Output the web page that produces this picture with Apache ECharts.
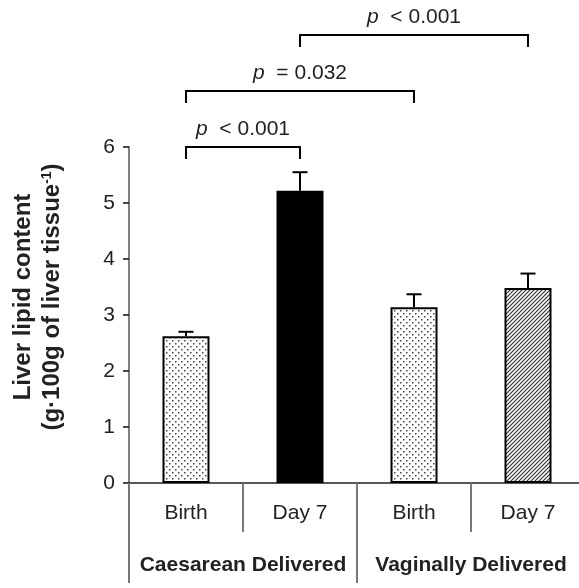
<!DOCTYPE html>
<html>
<head>
<meta charset="utf-8">
<script src="https://cdn.jsdelivr.net/npm/echarts@6/dist/echarts.min.js"></script>
<style>
  html, body { margin: 0; padding: 0; background: #fff; }
  #chart { width: 579px; height: 588px; }
</style>
</head>
<body>
<div id="chart"></div>
<script>
const groups = ['Caesarean Delivered', 'Vaginally Delivered']
const categories = ['Birth', 'Day 7', 'Birth', 'Day 7']
const values = [2.62, 5.22, 3.14, 3.48]
const errors = [0.08, 0.33, 0.23, 0.26]
const yTicks = [0, 1, 2, 3, 4, 5, 6]
// [from bar, to bar, bracket level, label]
const brackets = [
  [0, 1, 6, '< 0.001'],
  [0, 2, 7, '= 0.032'],
  [1, 3, 8, '< 0.001'],
]

function dotPattern() {
  const c = document.createElement('canvas')
  c.width = 6
  c.height = 6
  const ctx = c.getContext('2d')
  ctx.fillStyle = '#fff'
  ctx.fillRect(0, 0, 6, 6)
  ctx.fillStyle = '#444'
  ctx.fillRect(1, 1, 1.5, 1.5)
  ctx.fillRect(4, 4, 1.5, 1.5)
  return c
}

function hatchPattern() {
  const c = document.createElement('canvas')
  c.width = 4
  c.height = 4
  const ctx = c.getContext('2d')
  ctx.fillStyle = '#fff'
  ctx.fillRect(0, 0, 4, 4)
  ctx.strokeStyle = '#333'
  ctx.lineWidth = 1.2
  ctx.beginPath()
  ctx.moveTo(-1, 5); ctx.lineTo(5, -1)
  ctx.moveTo(-1, 1); ctx.lineTo(1, -1)
  ctx.moveTo(3, 5); ctx.lineTo(5, 3)
  ctx.stroke()
  return c
}

const fills = [
  { image: dotPattern(), repeat: 'repeat' },
  '#000',
  { image: dotPattern(), repeat: 'repeat' },
  { image: hatchPattern(), repeat: 'repeat' },
]

const font = 'Liberation Sans, Arial, sans-serif'
const chart = echarts.init(document.getElementById('chart'))

const option = {
  animation: false,
  backgroundColor: '#fff',
  textStyle: { fontFamily: font },
  grid: { left: 129, top: 147, width: 456, height: 336, outerBoundsMode: 'none', containLabel: false },
  xAxis: [
    {
      type: 'category',
      data: categories,
      position: 'bottom',
      axisLine: { lineStyle: { color: '#222', width: 1.5 } },
      axisTick: { show: true, interval: 0, length: 49, lineStyle: { color: '#777', width: 2 } },
      axisLabel: { interval: 0, margin: 20, fontSize: 21, color: '#222' },
    },
    {
      type: 'category',
      data: groups,
      position: 'bottom',
      axisLine: { show: false },
      axisTick: { show: true, interval: 0, length: 100, lineStyle: { color: '#777', width: 2 } },
      axisLabel: { interval: 0, margin: 72, fontSize: 21, fontWeight: 'bold', color: '#222' },
    },
  ],
  yAxis: {
    type: 'value',
    min: yTicks[0],
    max: yTicks[yTicks.length - 1],
    interval: 1,
    splitLine: { show: false },
    axisLine: { show: true, lineStyle: { color: '#808080', width: 2 } },
    axisTick: { show: true, length: 6, lineStyle: { color: '#111', width: 1.5 } },
    axisLabel: { margin: 14, fontSize: 21, color: '#222' },
    name: '{t|Liver lipid content}\n{t|(g·100g of liver tissue}{s|-1}{t|)}',
    nameLocation: 'middle',
    nameGap: 62,
    nameTextStyle: {
      padding: [0, 0, 0, 36],
      rich: {
        t: { fontSize: 24, fontWeight: 'bold', color: '#222', lineHeight: 29 },
        s: { fontSize: 14, fontWeight: 'bold', color: '#222', padding: [0, 0, 11, 0] },
      },
    },
  },
  series: [
    {
      type: 'bar',
      xAxisIndex: 0,
      barWidth: 47,
      data: values.map((v, i) => ({
        value: v,
        itemStyle: { color: fills[i], borderColor: '#000', borderWidth: 2 },
      })),
    },
    {
      type: 'custom',
      xAxisIndex: 0,
      data: values.map((v, i) => [i, v, v + errors[i]]),
      renderItem: function (params, api) {
        const base = api.coord([api.value(0), api.value(1)])
        const top = api.coord([api.value(0), api.value(2)])
        return {
          type: 'group',
          children: [
            { type: 'line', shape: { x1: base[0], y1: base[1], x2: top[0], y2: top[1] }, style: { stroke: '#000', lineWidth: 2 } },
            { type: 'line', shape: { x1: top[0] - 7.5, y1: top[1], x2: top[0] + 7.5, y2: top[1] }, style: { stroke: '#000', lineWidth: 2 } },
          ],
        }
      },
      z: 3,
    },
    {
      type: 'custom',
      xAxisIndex: 0,
      clip: false,
      data: brackets,
      renderItem: function (params, api) {
        const b = brackets[params.dataIndex]
        const a = api.coord([b[0], b[2]])
        const c = api.coord([b[1], b[2]])
        return {
          type: 'group',
          children: [
            {
              type: 'polyline',
              shape: { points: [[a[0], a[1] + 12], [a[0], a[1]], [c[0], c[1]], [c[0], c[1] + 12]] },
              style: { stroke: '#000', lineWidth: 2, fill: null },
            },
            {
              type: 'text',
              x: (a[0] + c[0]) / 2,
              y: a[1] - 18,
              style: {
                text: '{p|p}{v|  ' + b[3] + '}',
                align: 'center',
                verticalAlign: 'middle',
                rich: {
                  p: { fontSize: 21, fontStyle: 'italic', fill: '#222', fontFamily: font },
                  v: { fontSize: 21, fill: '#222', fontFamily: font },
                },
              },
            },
          ],
        }
      },
    },
  ],
}

chart.setOption(option)
</script>
</body>
</html>
